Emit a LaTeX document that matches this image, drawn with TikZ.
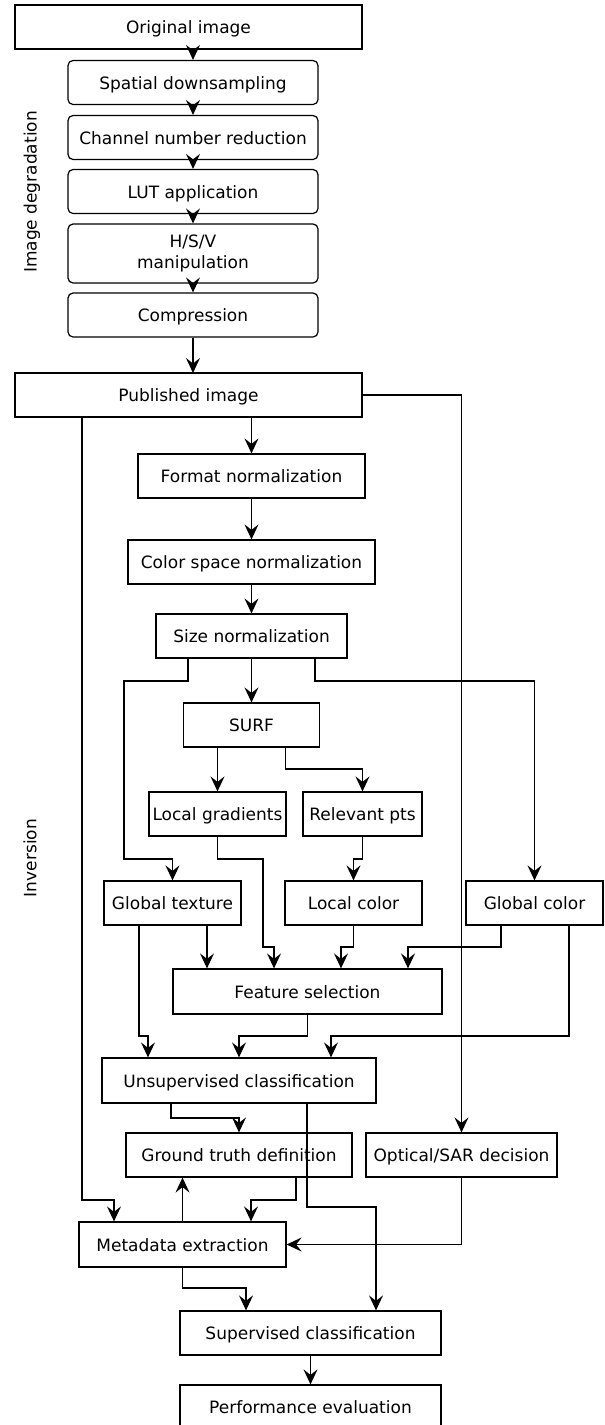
\documentclass[tikz,border=0pt]{standalone}
\usepackage{fontspec}
\setmainfont{DejaVu Sans}
\usetikzlibrary{arrows.meta,calc}
\tikzset{
  basebox/.style={draw, line width=1.2pt, minimum height=44pt, inner sep=0pt,
    align=center, font=\fontsize{17}{21}\selectfont},
  box/.style={basebox, text height=13pt, text depth=0pt},
  rbox/.style={box, rounded corners=5pt, minimum width=250pt},
  arr/.style={-{Stealth[length=15pt,width=14pt,inset=5.5pt]}, line width=1.2pt},
  lbl/.style={rotate=90, font=\fontsize{17}{21}\selectfont}
}

\begin{document}
\begin{tikzpicture}[x=1pt,y=-1pt]
\useasboundingbox (0,0) rectangle (605,1425);
% image degradation
\node[box, minimum width=347pt] (orig) at (188.5,27) {Original image};
\node[rbox] (down) at (193,82.5) {Spatial downsampling};
\node[rbox] (chan) at (193,137.5) {Channel number reduction};
\node[rbox] (lut) at (193,191.5) {LUT application};
\node[basebox, rounded corners=5pt, minimum width=250pt, minimum height=59pt] (hsv) at (193,253.5) {H/S/V\\manipulation};
\node[rbox] (comp) at (193,315) {Compression};
\node[lbl] (degr) at (32,192) {Image degradation};
\draw[arr] (orig.south -| down.north) -- (down.north);
\foreach \a/\b in {down/chan,chan/lut,lut/hsv,hsv/comp}
  \draw[arr] (\a) -- (\b);
\draw[arr] (comp) -- (comp.south |- 0,373);
% inversion
\node[box, minimum width=347pt] (pub) at (188.5,395) {Published image};
\node[box, minimum width=227pt] (fmt) at (251.5,476) {Format normalization};
\node[box, minimum width=247pt] (csp) at (251.5,562) {Color space normalization};
\node[box, minimum width=191pt] (siz) at (251.5,636) {Size normalization};
\node[box, minimum width=136pt] (surf) at (251.5,725) {SURF};
\node[box, minimum width=137pt] (lgrad) at (217.5,814) {Local gradients};
\node[box, minimum width=119pt] (rpts) at (362.5,814) {Relevant pts};
\node[box, minimum width=137pt] (gtex) at (172.5,903) {Global texture};
\node[box, minimum width=137pt] (lcol) at (353.5,903) {Local color};
\node[box, minimum width=137pt] (gcol) at (534.5,903) {Global color};
\node[box, minimum width=269pt, minimum height=45pt] (fsel) at (307.5,991.5) {Feature selection};
\node[box, minimum width=274pt, minimum height=45pt] (unsup) at (239,1080.5) {Unsupervised classification};
\node[box, minimum width=226pt] (gt) at (239,1155) {Ground truth definition};
\node[box, minimum width=191pt] (osar) at (461.5,1155) {Optical/SAR decision};
\node[box, minimum width=207pt, minimum height=45pt] (meta) at (182.5,1244.5) {Metadata extraction};
\node[box, minimum width=261pt] (sup) at (310.5,1333) {Supervised classification};
\node[box, minimum width=261pt] (perf) at (310.5,1407) {Performance evaluation};
\node[lbl] (inv) at (30,858) {Inversion};
% normalization chain
\draw[arr] (pub.south -| fmt.north) -- (fmt.north);
\draw[arr] (fmt) -- (csp);
\draw[arr] (csp) -- (siz);
\draw[arr] (siz) -- (surf);
\draw[arr] ([xshift=-63.5pt]siz.south) |- (124,681) |- (172.5,859) -- (gtex.north);
\draw[arr] ([xshift=63.5pt]siz.south) |- (534.5,681) -- (gcol.north);
\draw[arr] (surf.south -| lgrad.north) -- (lgrad.north);
\draw[arr] ([xshift=34pt]surf.south) |- (362.5,769) -- (rpts.north);
\draw[arr] (rpts.south) |- (353.5,859) -- (lcol.north);
% features
\draw[arr] ([xshift=34.5pt]gtex.south) -- ([xshift=-100.5pt]fsel.north);
\draw[arr] (lgrad.south) |- (263,859) |- (274,947) -- ([xshift=-33.5pt]fsel.north);
\draw[arr] (lcol.south) |- (341,947) -- ([xshift=33.5pt]fsel.north);
\draw[arr] ([xshift=-33.5pt]gcol.south) |- (408,947) -- ([xshift=100.5pt]fsel.north);
\draw[arr] ([xshift=-33.5pt]gtex.south) |- (148,1036) -- ([xshift=-91pt]unsup.north);
\draw[arr] (fsel.south) |- (239,1036) -- (unsup.north);
\draw[arr] ([xshift=34.5pt]gcol.south) |- (331,1036) -- ([xshift=92pt]unsup.north);
% classification
\draw[arr] (pub.east) -| (osar.north);
\draw[arr] ([xshift=-68pt]unsup.south) |- (239,1118) -- (gt.north);
\draw[arr] ([xshift=68pt]unsup.south) |- (376,1207) -- ([xshift=65.5pt]sup.north);
\draw[arr] ([xshift=-106.5pt]pub.south) |- (114,1200) -- ([xshift=-68.5pt]meta.north);
\draw[arr] (meta.north) -- (meta.north |- gt.south);
\draw[arr] ([xshift=57pt]gt.south) |- (251,1200) -- ([xshift=68.5pt]meta.north);
\draw[arr] (osar.south) |- (meta.east);
\draw[arr] (meta.south) |- (246,1288) -- ([xshift=-64.5pt]sup.north);
\draw[arr] (sup) -- (perf);
\end{tikzpicture}
\end{document}
